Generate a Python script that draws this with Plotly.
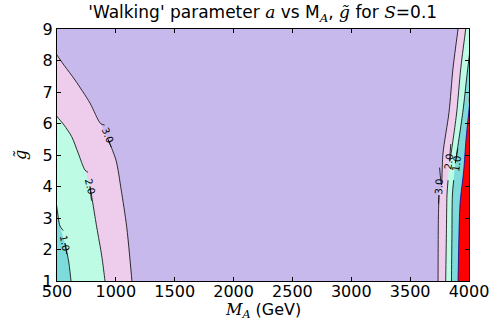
import plotly.graph_objects as go

# contour boundaries (M_A in GeV, g-tilde)
# left-hand side
c3_left_M = [500, 560, 653, 780, 870, 933, 1001, 1045, 1092, 1137]
c3_left_g = [8.17, 7.85, 7.38, 6.65, 6.0, 5.5, 4.84, 3.9, 2.72, 1.0]
c2_left_M = [500, 560, 625, 680, 738, 780, 837, 880, 908]
c2_left_g = [6.22, 5.95, 5.58, 5.06, 4.52, 4.0, 2.72, 1.8, 1.0]
c1_left_M = [500, 525, 568, 600, 619]
c1_left_g = [3.31, 2.75, 2.2, 1.6, 1.0]

# right-hand side (bottom to top)
c3_right_M = [3737, 3740, 3745, 3766, 3779, 3830, 3864, 3907]
c3_right_g = [1.0, 3.0, 3.73, 4.05, 5.05, 6.35, 7.75, 9.0]
c2_right_M = [3802, 3808, 3813, 3836, 3893, 3930, 3972]
c2_right_g = [1.0, 2.5, 3.73, 4.8, 6.27, 7.75, 9.0]
c1_right_M = [3851, 3855, 3859, 3884, 3947, 3985, 4000]
c1_right_g = [1.0, 2.5, 3.73, 4.74, 6.35, 7.6, 8.08]
c0_right_M = [3907, 3915, 3925, 3955, 3975, 4000]
c0_right_g = [1.0, 2.5, 3.5, 4.5, 5.5, 6.44]

M_min, M_max = 500, 4000
g_min, g_max = 1, 9

# label positions: (M, g, text, angle)
labels = [
    (933, 5.63, "3.0", 68),
    (780, 4.0, "2.0", 77),
    (568, 2.2, "1.0", 79),
    (3745, 4.0, "3.0", -86),
    (3830, 4.79, "2.0", -82),
    (3893, 4.74, "1.0", -82),
]

lavender = "#c8b9ed"
pink = "#eecdec"
aqua = "#bdfbe5"
teal = "#7ddbdc"
red = "#ff0000"

fig = go.Figure()


def ext(xs, ys, k=0.6):
    # push both ends a little past the frame so the spline runs to the edge
    x0 = xs[0] - k * (xs[1] - xs[0])
    y0 = ys[0] - k * (ys[1] - ys[0])
    x1 = xs[-1] + k * (xs[-1] - xs[-2])
    y1 = ys[-1] + k * (ys[-1] - ys[-2])
    return [x0] + list(xs) + [x1], [y0] + list(ys) + [y1]


def fill(xs, ys, corners, color):
    ex, ey = ext(xs, ys)
    cx = [c[0] for c in corners]
    cy = [c[1] for c in corners]
    fig.add_trace(go.Scatter(x=ex + cx, y=ey + cy, mode="lines", fill="toself",
                             fillcolor=color, line=dict(width=0, shape="spline", smoothing=0.8),
                             hoverinfo="skip", showlegend=False))


# left regions
fill(c3_left_M, c3_left_g, [(1250, -1), (-300, -1), (-300, 12)], pink)
fill(c2_left_M, c2_left_g, [(1000, -1), (-300, -1), (-300, 10)], aqua)
fill(c1_left_M, c1_left_g, [(700, -1), (-300, -1), (-300, 6)], teal)
# right regions
fill(c3_right_M, c3_right_g, [(4000, 11), (4800, 11), (4800, -1), (3700, -1)], pink)
fill(c2_right_M, c2_right_g, [(4050, 11), (4800, 11), (4800, -1), (3780, -1)], aqua)
fill(c1_right_M, c1_right_g, [(4800, 9), (4800, -1), (3840, -1)], teal)
fill(c0_right_M, c0_right_g, [(4800, 8), (4800, -1), (3900, -1)], red)


def line(xs, ys, gap, color="black"):
    # break the line around the label, like inline contour labels
    lx, ly = ext(xs, ys)
    if gap is not None:
        i, gx, gy = gap
        i += 1
        lx = lx[:i] + [gx[0], None, gx[1]] + lx[i:]
        ly = ly[:i] + [gy[0], None, gy[1]] + ly[i:]
    fig.add_trace(go.Scatter(x=lx, y=ly, mode="lines",
                             line=dict(color=color, width=0.8, shape="spline", smoothing=0.8),
                             hoverinfo="skip", showlegend=False))


line(c3_left_M, c3_left_g, (5, (905, 961), (5.95, 5.25)))
line(c2_left_M, c2_left_g, (5, (764, 793), (4.45, 3.55)))
line(c1_left_M, c1_left_g, (2, (553, 583), (2.6, 1.85)))
line(c3_right_M, c3_right_g, (3, (3741, 3750), (3.45, 4.6)))
line(c2_right_M, c2_right_g, (3, (3822, 3845), (4.2, 5.35)))
line(c1_right_M, c1_right_g, (3, (3870, 3905), (4.2, 5.2)))
line(c0_right_M, c0_right_g, None, color="#0000a0")

for m, g, t, ang in labels:
    fig.add_annotation(x=m, y=g, text=t, showarrow=False, textangle=ang,
                       font=dict(family="DejaVu Sans", size=10, color="black"))

math = "font-family:'DejaVu Serif'"

# axis titles placed as annotations for exact positioning
fig.add_annotation(text="<span style=\"" + math + "\"><i>M<sub>A</sub></i></span> (GeV)",
                   xref="paper", yref="paper", x=0.5, y=0, yshift=-29,
                   xanchor="center", yanchor="middle", showarrow=False,
                   font=dict(family="DejaVu Sans", size=16, color="black"))
fig.add_annotation(text="<span style=\"" + math + "\"><i>g̃</i></span>",
                   xref="paper", yref="paper", x=0, y=0.5, xshift=-37,
                   xanchor="center", yanchor="middle", showarrow=False, textangle=-90,
                   font=dict(family="DejaVu Sans", size=16, color="black"))

fig.update_layout(
    width=491, height=327,
    margin=dict(l=57, r=22, t=29, b=46, autoexpand=False),
    paper_bgcolor="white",
    plot_bgcolor=lavender,
    font=dict(family="DejaVu Sans", size=16, color="black"),
    title=dict(
        text=("'Walking' parameter <span style=\"" + math + "\"><i>a</i></span> vs M"
              "<sub><span style=\"" + math + "\"><i>A</i></span></sub>, "
              "<span style=\"" + math + "\"><i>g̃</i></span> for "
              "<span style=\"" + math + "\"><i>S</i></span>=0.1"),
        x=0.535, xanchor="center", y=0.962, yanchor="middle",
        font=dict(size=17)),
    xaxis=dict(range=[M_min, M_max], tick0=500, dtick=500, ticks="inside", ticklen=4,
               tickcolor="black", showline=True, linecolor="black", linewidth=1,
               mirror="allticks", showgrid=False, zeroline=False, automargin=False,
               ticklabelstandoff=-4),
    yaxis=dict(range=[g_min, g_max], tick0=1, dtick=1, ticks="inside", ticklen=4,
               tickcolor="black", showline=True, linecolor="black", linewidth=1,
               mirror="allticks", showgrid=False, zeroline=False, automargin=False),
)

fig.write_html("out.html", config={"displayModeBar": False},
               post_script="document.body.style.margin='0';")
